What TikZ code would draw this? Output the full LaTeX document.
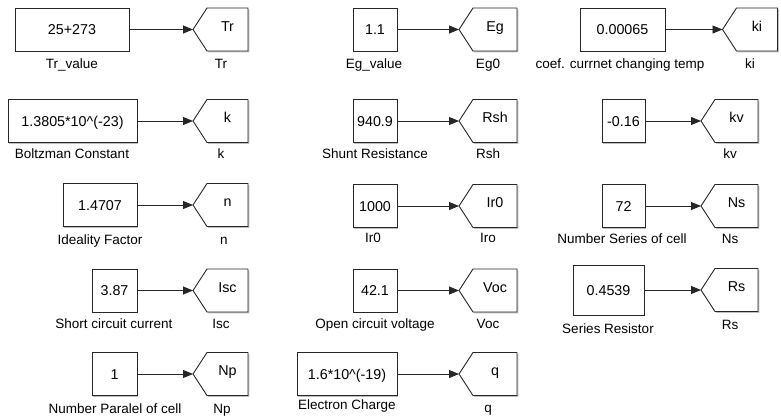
\documentclass[tikz,border=0pt]{standalone}
\usepackage{fontspec}
\setmainfont{Liberation Sans}
\usetikzlibrary{arrows.meta,shadows}
\newcommand{\valsize}{\fontsize{14.3}{16}\selectfont}
\newcommand{\lblsize}{\fontsize{13.5}{15}\selectfont}
% goto tag: #1 name, #2 body centre x, #3 centre y, #4 body width, #5 text
\newcommand{\gtag}[5]{%
  \fill[black!25] ({#2-#4/2+1.3},{#3-21.5+1.3}) -- ({#2+#4/2+1.3},{#3-21.5+1.3}) -- ({#2+#4/2+1.3},{#3+21.5+1.3}) -- ({#2-#4/2+1.3},{#3+21.5+1.3}) -- ({#2-#4/2-14+1.3},{#3+1.3}) -- cycle;
  \draw[gline] ({#2-#4/2},{#3-21.5}) -- ({#2+#4/2},{#3-21.5}) -- ({#2+#4/2},{#3+21.5}) -- ({#2-#4/2},{#3+21.5}) -- ({#2-#4/2-14},{#3}) -- cycle;
  \node[gbody, minimum width=#4pt] (#1) at (#2,#3) {#5};
  \coordinate (#1p) at ({#2-#4/2-14},{#3});
}
\begin{document}
\begin{tikzpicture}[x=1pt,y=-1pt,
  cbox/.style={draw=black!85, line width=0.9pt, fill=white, font=\valsize,
    inner xsep=2pt, inner ysep=0pt, text height=26.7pt, text depth=16.3pt,
    drop shadow={shadow xshift=1.3pt, shadow yshift=-1.3pt, fill=black!25, opacity=1}},
  gline/.style={draw=black!85, line width=0.9pt, fill=white, line join=miter},
  gbody/.style={inner sep=0pt, font=\valsize, text height=23.2pt, text depth=19.8pt},
  lbl/.style={font=\lblsize, anchor=base, inner sep=0pt},
  conn/.style={draw=black!85, line width=0.9pt, -{Triangle[length=10pt,width=8pt]}}
]
\useasboundingbox (0,0) rectangle (781,416);

% ---------------- column 1 ----------------
\node[cbox, minimum width=114pt] (c1) at (72,29.5) {25+273};
\node[lbl] (lc1) at (72,68) {Tr\_value};
\gtag{g1}{227.5}{29.5}{41}{Tr}
\node[lbl] (lg1) at (221,68) {Tr};
\draw[conn] (c1.east) -- (g1p);

\node[cbox, minimum width=129pt] (c2) at (72.5,121) {1.3805*10\textasciicircum(-23)};
\node[lbl] (lc2) at (72,158) {Boltzman Constant};
\gtag{g2}{227.5}{121}{41}{k}
\node[lbl] (lg2) at (221,158) {k};
\draw[conn] (c2.east) -- (g2p);

\node[cbox, minimum width=74pt] (c3) at (100,205) {1.4707};
\node[lbl] (lc3) at (100,244) {Ideality Factor};
\gtag{g3}{227.5}{205}{41}{n}
\node[lbl] (lg3) at (224,244) {n};
\draw[conn] (c3.east) -- (g3p);

\node[cbox, minimum width=45pt] (c4) at (114.5,290.5) {3.87};
\node[lbl] (lc4) at (114,328) {Short circuit current};
\gtag{g4}{227.5}{290.5}{41}{Isc}
\node[lbl] (lg4) at (221,328) {Isc};
\draw[conn] (c4.east) -- (g4p);

\node[cbox, minimum width=45pt] (c5) at (114.5,374) {1};
\node[lbl] (lc5) at (115,413) {Number Paralel of cell};
\gtag{g5}{227.5}{374}{41}{Np}
\node[lbl] (lg5) at (222,413) {Np};
\draw[conn] (c5.east) -- (g5p);

% ---------------- column 2 ----------------
\node[cbox, minimum width=44pt] (d1) at (375,29.5) {1.1};
\node[lbl] (ld1) at (374,68) {Eg\_value};
\gtag{h1}{495}{29.5}{44}{Eg}
\node[lbl] (lh1) at (488,68) {Eg0};
\draw[conn] (d1.east) -- (h1p);

\node[cbox, minimum width=44pt] (d2) at (375,121) {940.9};
\node[lbl] (ld2) at (375,158) {Shunt Resistance};
\gtag{h2}{495}{121}{44}{Rsh}
\node[lbl] (lh2) at (488,158) {Rsh};
\draw[conn] (d2.east) -- (h2p);

\node[cbox, minimum width=44pt] (d3) at (375,206) {1000};
\node[lbl] (ld3) at (373,242) {Ir0};
\gtag{h3}{495}{206}{44}{Ir0}
\node[lbl] (lh3) at (488,242) {Iro};
\draw[conn] (d3.east) -- (h3p);

\node[cbox, minimum width=44pt] (d4) at (375,290.5) {42.1};
\node[lbl] (ld4) at (375,328) {Open circuit voltage};
\gtag{h4}{495}{290.5}{44}{Voc}
\node[lbl] (lh4) at (488,328) {Voc};
\draw[conn] (d4.east) -- (h4p);

\node[cbox, minimum width=100pt] (d5) at (347,374) {1.6*10\textasciicircum(-19)};
\node[lbl] (ld5) at (347,409) {Electron Charge};
\gtag{h5}{495}{374}{44}{q}
\node[lbl] (lh5) at (488,412) {q};
\draw[conn] (d5.east) -- (h5p);

% ---------------- column 3 ----------------
\node[cbox, minimum width=85pt] (e1) at (622.5,29.5) {0.00065};
\node[lbl] (le1) at (620,68) {coef. currnet changing temp};
\gtag{f1}{757}{29.5}{41}{ki}
\node[lbl] (lf1) at (750,68) {ki};
\draw[conn] (e1.east) -- (f1p);

\node[cbox, minimum width=43pt] (e2) at (623.5,121) {-0.16};
\gtag{f2}{736.5}{121}{43}{kv}
\node[lbl] (lf2) at (730,158) {kv};
\draw[conn] (e2.east) -- (f2p);

\node[cbox, minimum width=43pt] (e3) at (623.5,206) {72};
\node[lbl] (le3) at (622,243) {Number Series of cell};
\gtag{f3}{736.5}{206}{43}{Ns}
\node[lbl] (lf3) at (730,243) {Ns};
\draw[conn] (e3.east) -- (f3p);

\node[cbox, minimum width=71pt, text height=30.2pt, text depth=19.8pt] (e4) at (608.5,290) {0.4539};
\node[lbl] (le4) at (608,333) {Series Resistor};
\gtag{f4}{736.5}{290}{43}{Rs}
\node[lbl] (lf4) at (730,329) {Rs};
\draw[conn] (e4.east) -- (f4p);
\end{tikzpicture}
\end{document}
